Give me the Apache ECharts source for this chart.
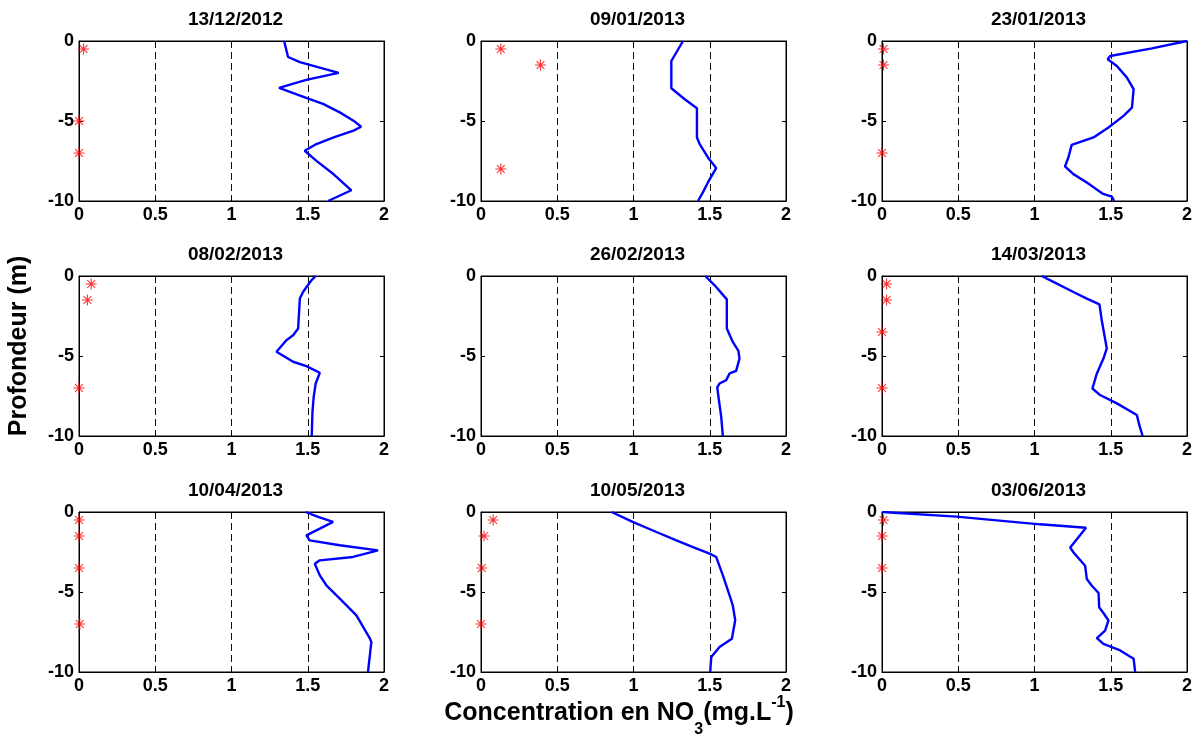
<!DOCTYPE html>
<html>
<head>
<meta charset="utf-8">
<script src="https://cdn.jsdelivr.net/npm/echarts@6/dist/echarts.min.js"></script>
<style>
html,body{margin:0;padding:0;background:#fff;}
#chart{width:1202px;height:738px;}
</style>
</head>
<body>
<div id="chart"></div>
<script>
// ---- data ----
const dates = ['13/12/2012','09/01/2013','23/01/2013','08/02/2013','26/02/2013','14/03/2013','10/04/2013','10/05/2013','03/06/2013'];
const xTicks = [0, 0.5, 1, 1.5, 2];
const yTicks = [-10, -5, 0];

const conc1 = [1.345,1.371,1.448,1.703,1.49,1.312,1.49,1.60,1.71,1.80,1.85,1.80,1.67,1.557,1.48,1.557,1.67,1.786,1.633];
const depth1 = [0,-1.0,-1.32,-1.99,-2.43,-2.93,-3.56,-3.93,-4.46,-4.98,-5.36,-5.6,-6.03,-6.44,-6.86,-7.49,-8.33,-9.33,-10];
const starX1 = [0.03,0,0];
const starY1 = [-0.5,-5,-7];

const conc2 = [1.325,1.248,1.248,1.336,1.416,1.416,1.434,1.488,1.542,1.488,1.455,1.423];
const depth2 = [0,-1.25,-2.95,-3.64,-4.2,-6.03,-6.44,-7.28,-7.94,-8.84,-9.46,-10];
const starX2 = [0.13,0.39,0.13];
const starY2 = [-0.5,-1.5,-8];

const conc3 = [2.0,1.77,1.496,1.48,1.54,1.606,1.65,1.639,1.584,1.485,1.387,1.244,1.222,1.2,1.255,1.343,1.45,1.507,1.522];
const depth3 = [0,-0.46,-0.94,-1.14,-1.56,-2.29,-3.01,-4.16,-4.68,-5.41,-6.03,-6.49,-7.28,-7.84,-8.32,-8.84,-9.56,-9.73,-10];
const starX3 = [0.01,0.01,0];
const starY3 = [-0.5,-1.5,-7];

const conc4 = [1.552,1.524,1.469,1.448,1.437,1.404,1.36,1.295,1.404,1.491,1.579,1.552,1.539,1.531,1.526];
const depth4 = [0,-0.27,-1.0,-1.41,-3.28,-3.7,-4.01,-4.74,-5.36,-5.63,-6.05,-6.72,-7.55,-8.48,-10];
const starX4 = [0.08,0.055,0];
const starY4 = [-0.5,-1.5,-7];

const conc5 = [1.471,1.532,1.612,1.612,1.651,1.688,1.695,1.673,1.63,1.608,1.564,1.549,1.56,1.575,1.586];
const depth5 = [0,-0.58,-1.46,-3.28,-4.12,-4.68,-5.16,-5.93,-6.09,-6.51,-6.72,-6.96,-7.75,-8.79,-10];
const starX5 = [];
const starY5 = [];

const conc6 = [1.047,1.124,1.255,1.343,1.426,1.441,1.474,1.452,1.409,1.38,1.43,1.54,1.671,1.687,1.709];
const depth6 = [0,-0.37,-1.0,-1.41,-1.77,-2.77,-4.53,-5.16,-6.09,-7.03,-7.44,-7.96,-8.69,-9.31,-10];
const starX6 = [0.03,0.03,0,0];
const starY6 = [-0.5,-1.5,-3.5,-7];

const conc7 = [1.485,1.568,1.666,1.579,1.491,1.513,1.71,1.961,1.797,1.579,1.546,1.579,1.622,1.71,1.819,1.906,1.917,1.895];
const depth7 = [0,-0.31,-0.62,-1.04,-1.46,-1.77,-2.08,-2.40,-2.81,-3.02,-3.23,-3.96,-4.58,-5.42,-6.46,-7.88,-8.13,-10];
const starX7 = [0,0,0,0.005];
const starY7 = [-0.5,-1.5,-3.5,-7];

const conc8 = [0.856,0.998,1.15,1.281,1.39,1.499,1.542,1.586,1.63,1.651,1.667,1.645,1.564,1.51,1.503];
const depth8 = [0,-0.63,-1.25,-1.77,-2.19,-2.6,-2.81,-3.96,-5.21,-5.83,-6.77,-7.92,-8.44,-9.06,-10];
const starX8 = [0.08,0.02,0.005,0];
const starY8 = [-0.5,-1.5,-3.5,-7];

const conc9 = [0,0.488,1.036,1.338,1.234,1.256,1.332,1.343,1.376,1.42,1.424,1.452,1.485,1.463,1.409,1.452,1.562,1.65,1.66];
const depth9 = [0,-0.29,-0.77,-0.98,-2.22,-2.53,-3.36,-4.19,-4.61,-5.06,-5.95,-6.31,-6.78,-7.41,-7.88,-8.24,-8.65,-9.17,-10];
const starX9 = [0.01,0,0];
const starY9 = [-0.5,-1.5,-3.5];

const yAxisName = 'Profondeur (m)';

// ---- build ----
const profiles = [
  [conc1, depth1, starX1, starY1],
  [conc2, depth2, starX2, starY2],
  [conc3, depth3, starX3, starY3],
  [conc4, depth4, starX4, starY4],
  [conc5, depth5, starX5, starY5],
  [conc6, depth6, starX6, starY6],
  [conc7, depth7, starX7, starY7],
  [conc8, depth8, starX8, starY8],
  [conc9, depth9, starX9, starY9]
];

const FONT = '"Liberation Sans", Arial, Helvetica, sans-serif';
const colLefts = [79, 481, 882];
const colWidth = 305;
const rowTops = [41, 276, 512];
const rowHeight = 160;

const starPath = 'path://M0 9L20 9L20 11L0 11Z M9 0L11 0L11 20L9 20Z M3.6 2.2L17.8 16.4L16.4 17.8L2.2 3.6Z M16.4 2.2L17.8 3.6L3.6 17.8L2.2 16.4Z';

const grids = [], xAxes = [], yAxes = [], series = [], titles = [];
const xMin = xTicks[0], xMax = xTicks[xTicks.length - 1], xInt = xTicks[1] - xTicks[0];
const yMin = yTicks[0], yMax = yTicks[yTicks.length - 1], yInt = yTicks[1] - yTicks[0];

for (let i = 0; i < 9; i++) {
  const r = Math.floor(i / 3), c = i % 3;
  grids.push({left: colLefts[c], top: rowTops[r], width: colWidth, height: rowHeight, containLabel: false,
    show: true, backgroundColor: '#fff', borderColor: '#000', borderWidth: 1});
  titles.push({text: dates[i], left: colLefts[c] + colWidth / 2 - 1, top: rowTops[r] - 36, textAlign: 'center',
    textStyle: {fontFamily: FONT, fontWeight: 'bold', fontSize: 19, color: '#000'}});
}
const tickStyle = {show: true, inside: true, length: 4, lineStyle: {color: '#000', width: 1}};
const lineStyleAxis = {show: true, onZero: false, lineStyle: {color: '#000', width: 1}};
const labelStyle = {fontFamily: FONT, fontWeight: 'bold', fontSize: 18, color: '#000'};
for (let i = 0; i < 9; i++) {
  xAxes.push({type: 'value', gridIndex: i, position: 'bottom', min: xMin, max: xMax, interval: xInt,
    axisLine: lineStyleAxis, axisTick: tickStyle,
    axisLabel: Object.assign({margin: 5, showMinLabel: true, showMaxLabel: true}, labelStyle),
    splitLine: {show: true, showMinLine: false, showMaxLine: false, lineStyle: {color: '#111', width: 1, type: [7, 4]}}});
}
for (let i = 0; i < 9; i++) {
  xAxes.push({type: 'value', gridIndex: i, position: 'top', min: xMin, max: xMax, interval: xInt,
    axisLine: lineStyleAxis, axisTick: tickStyle, axisLabel: {show: false}, splitLine: {show: false}});
}
for (let i = 0; i < 9; i++) {
  yAxes.push({type: 'value', gridIndex: i, position: 'left', min: yMin, max: yMax, interval: yInt,
    axisLine: lineStyleAxis, axisTick: tickStyle,
    axisLabel: Object.assign({margin: 5, showMinLabel: true, showMaxLabel: true}, labelStyle),
    splitLine: {show: false}});
}
for (let i = 0; i < 9; i++) {
  yAxes.push({type: 'value', gridIndex: i, position: 'right', min: yMin, max: yMax, interval: yInt,
    axisLine: lineStyleAxis, axisTick: tickStyle, axisLabel: {show: false}, splitLine: {show: false}});
}
profiles.forEach(function (p, i) {
  const [cx, dy, sx, sy] = p;
  series.push({type: 'line', xAxisIndex: i, yAxisIndex: i, showSymbol: false, symbol: 'none',
    data: cx.map((v, k) => [v, dy[k]]), lineStyle: {color: '#0000ff', width: 2.4}, z: 3, clip: true});
  series.push({type: 'scatter', xAxisIndex: i, yAxisIndex: i, symbol: starPath, symbolSize: 11,
    data: sx.map((v, k) => [v, sy[k]]), itemStyle: {color: '#ff0000'}, z: 4, clip: false});
});

const chart = echarts.init(document.getElementById('chart'), null, {renderer: 'canvas'});
chart.setOption({
  animation: false,
  backgroundColor: '#fff',
  textStyle: {fontFamily: FONT},
  title: titles,
  grid: grids,
  xAxis: xAxes,
  yAxis: yAxes,
  series: series,
  graphic: [
    {type: 'text', x: 619, y: 713, silent: true,
      style: {text: '{a|Concentration en NO}{s|3}{a|(mg.L}{p|-1}{a|)}', align: 'center', verticalAlign: 'middle',
        rich: {
          a: {fontFamily: FONT, fontWeight: 'bold', fontSize: 25, color: '#000', verticalAlign: 'middle'},
          s: {fontFamily: FONT, fontWeight: 'bold', fontSize: 16, color: '#000', verticalAlign: 'middle', padding: [34, 0, 0, 0]},
          p: {fontFamily: FONT, fontWeight: 'bold', fontSize: 16, color: '#000', verticalAlign: 'middle', padding: [0, 0, 20, 0]}
        }}},
    {type: 'text', x: 19, y: 346, rotation: Math.PI / 2, silent: true,
      style: {text: yAxisName, align: 'center', verticalAlign: 'middle',
        font: 'bold 25px ' + FONT, fill: '#000'}}
  ]
});
</script>
</body>
</html>
